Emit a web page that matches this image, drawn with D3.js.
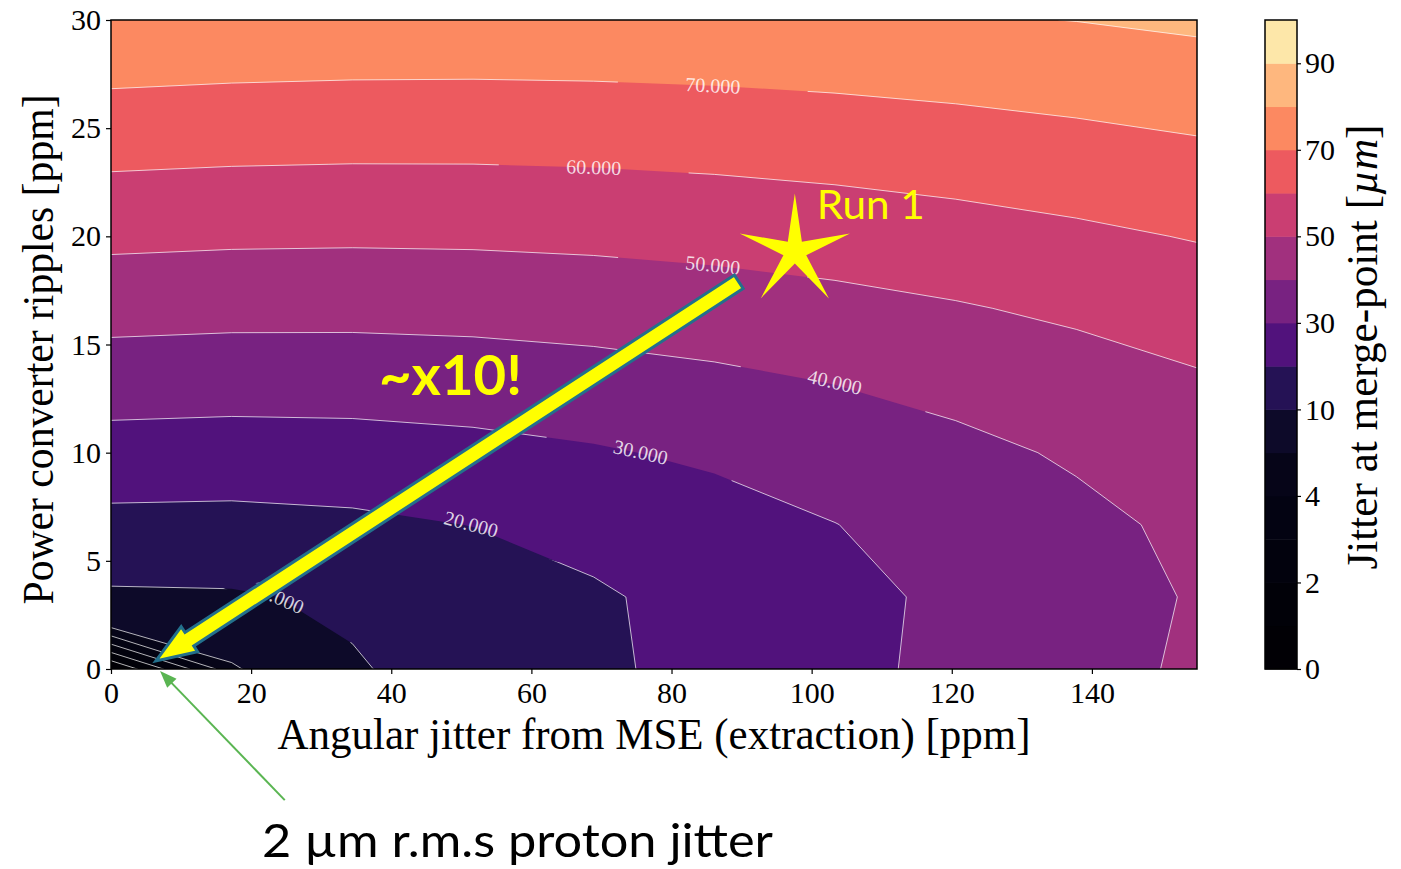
<!DOCTYPE html>
<html>
<head>
<meta charset="utf-8">
<script src="https://cdn.jsdelivr.net/npm/d3@7"></script>
<style>
  body { margin: 0; background: #fff; }
  svg { display: block; }
  .axis text { font-family: "Liberation Serif", serif; font-size: 30px; fill: #000; }
  .axis line { stroke: #000; stroke-width: 1.2; }
  .axis path { display: none; }
</style>
</head>
<body>
<script>
var xGrid = [0, 17.22, 34.44, 51.67, 68.89, 86.11, 103.33, 120.56, 137.78, 155];
var yGrid = [0, 3.33, 6.67, 10, 13.33, 16.67, 20, 23.33, 26.67, 30];
// rows go with yGrid, columns with xGrid (µm)
var jitter = [
  [ 0.00,  4.60,  9.20, 13.80, 18.39, 22.99, 27.59, 32.19, 36.79, 41.39],
  [ 8.70,  9.08, 11.47, 14.93, 18.88, 23.08, 27.40, 31.80, 36.25, 40.73],
  [17.40, 17.18, 18.16, 20.17, 22.94, 26.23, 29.86, 33.73, 37.77, 41.92],
  [26.10, 25.68, 26.07, 27.25, 29.11, 31.54, 34.41, 37.63, 41.11, 44.79],
  [34.80, 34.27, 34.36, 35.06, 36.33, 38.11, 40.35, 42.96, 45.88, 49.06],
  [43.50, 42.91, 42.82, 43.21, 44.09, 45.41, 47.15, 49.25, 51.69, 54.40],
  [52.20, 51.57, 51.35, 51.54, 52.14, 53.13, 54.49, 56.20, 58.22, 60.52],
  [60.90, 60.25, 59.94, 59.98, 60.38, 61.12, 62.19, 63.57, 65.26, 67.21],
  [69.60, 68.92, 68.55, 68.48, 68.73, 69.27, 70.12, 71.25, 72.66, 74.32],
  [78.30, 77.61, 77.18, 77.03, 77.15, 77.55, 78.21, 79.14, 80.15, 81.74]
];
var levels = [0, 1, 2, 3, 4, 5, 10, 20, 30, 40, 50, 60, 70, 80, 90, 100];
var cbarTicks = [0, 2, 4, 10, 30, 50, 70, 90];
var xTicks = [0, 20, 40, 60, 80, 100, 120, 140];
var yTicks = [0, 5, 10, 15, 20, 25, 30];

// inline contour labels: level, position on the line, rotation
var labelLevels = [10, 20, 30, 40, 50, 60, 70];
var labelX = [23.8, 51.4, 75.6, 103.3, 85.9, 68.9, 85.9];
var labelY = [3.33, 6.70, 10.03, 13.27, 18.68, 23.2, 26.98];
var labelAngle = [24, 15, 13, 13, 6, 2, 3];

// slide annotations (data coordinates)
var run1 = [97.6, 19.3];
var bigArrow = [[89.6, 17.9], [6.4, 0.37]];
var greenArrow = [[24.8, -6.06], [7.0, -0.09]];

var W = 1401, H = 869;
var svg = d3.select('body').append('svg').attr('width', W).attr('height', H);
var defs = svg.append('defs');

var x = d3.scaleLinear().domain([0, 155]).range([111, 1197]);
var y = d3.scaleLinear().domain([0, 30]).range([669, 20]);

// d3.contours puts sample i at i + 0.5
var gx = d3.scaleLinear().domain(xGrid.map((d, i) => i + 0.5)).range(xGrid);
var gy = d3.scaleLinear().domain(yGrid.map((d, i) => i + 0.5)).range(yGrid);
var path = d3.geoPath(d3.geoTransform({
  point: function(px, py) { this.stream.point(x(gx(px)), y(gy(py))); }
}));

var contours = d3.contours()
  .size([xGrid.length, yGrid.length])
  .thresholds(levels)(jitter.flat());

var bandColor = i => d3.interpolateMagma((levels[i] + levels[i + 1]) / 2 / 100);

defs.append('clipPath').attr('id', 'plotClip')
  .append('rect')
    .attr('x', x(0)).attr('y', y(30))
    .attr('width', x(155) - x(0)).attr('height', y(0) - y(30));

// gaps cut in the lines where the labels sit
var labels = labelLevels.map((v, i) => ({level: v, x: labelX[i], y: labelY[i], angle: labelAngle[i]}));
var mask = defs.append('mask').attr('id', 'gapMask')
  .attr('maskUnits', 'userSpaceOnUse')
  .attr('x', 0).attr('y', 0).attr('width', W).attr('height', H);
mask.append('rect').attr('width', W).attr('height', H).attr('fill', '#fff');
mask.selectAll('.gap')
  .data(labels)
  .join('rect')
    .attr('class', 'gap')
    .attr('x', d => d.level == 10 ? -85 : -95)
    .attr('y', -14)
    .attr('width', d => d.level == 10 ? 170 : 190)
    .attr('height', 28)
    .attr('fill', '#000')
    .attr('transform', d => `translate(${x(d.x)},${y(d.y)}) rotate(${d.angle})`);

var plot = svg.append('g').attr('clip-path', 'url(#plotClip)');

plot.selectAll('path.band')
  .data(contours.filter((c, i) => i < levels.length - 1))
  .join('path')
    .attr('class', 'band')
    .attr('d', path)
    .attr('fill', (d, i) => bandColor(i));

plot.append('g')
  .attr('mask', 'url(#gapMask)')
  .selectAll('path')
  .data(contours.filter(c => c.value > 0 && c.value < 90))
  .join('path')
    .attr('d', path)
    .attr('fill', 'none')
    .attr('stroke', '#fff')
    .attr('stroke-opacity', 0.7)
    .attr('stroke-width', 1);

plot.selectAll('text.clabel')
  .data(labels)
  .join('text')
    .attr('class', 'clabel')
    .attr('transform', d => `translate(${x(d.x)},${y(d.y)}) rotate(${d.angle})`)
    .attr('text-anchor', 'middle')
    .attr('dy', '0.35em')
    .attr('font-family', '"Liberation Serif", serif')
    .attr('font-size', 20)
    .attr('fill', '#fff')
    .attr('fill-opacity', 0.82)
    .text(d => d3.format('.3f')(d.level));

// frame + axes
svg.append('rect')
  .attr('x', x(0)).attr('y', y(30))
  .attr('width', x(155) - x(0)).attr('height', y(0) - y(30))
  .attr('fill', 'none').attr('stroke', '#000').attr('stroke-width', 1.5);

svg.append('g').attr('class', 'axis')
  .attr('transform', `translate(0,${y(0)})`)
  .call(d3.axisBottom(x).tickValues(xTicks).tickSize(5).tickPadding(8).tickFormat(d3.format('d')));

svg.append('g').attr('class', 'axis')
  .attr('transform', `translate(${x(0)},0)`)
  .call(d3.axisLeft(y).tickValues(yTicks).tickSize(5).tickPadding(5).tickFormat(d3.format('d')));

svg.append('text')
  .attr('x', (x(0) + x(155)) / 2).attr('y', 749)
  .attr('text-anchor', 'middle')
  .attr('font-family', '"Liberation Serif", serif').attr('font-size', 44)
  .attr('textLength', 753).attr('lengthAdjust', 'spacingAndGlyphs')
  .text('Angular jitter from MSE (extraction) [ppm]');

svg.append('text')
  .attr('transform', `translate(53,${(y(0) + y(30)) / 2 + 5}) rotate(-90)`)
  .attr('text-anchor', 'middle')
  .attr('font-family', '"Liberation Serif", serif').attr('font-size', 44)
  .attr('textLength', 510).attr('lengthAdjust', 'spacingAndGlyphs')
  .text('Power converter ripples [ppm]');

// colorbar (uniform spacing per band)
var cb = d3.scaleLinear().domain([0, levels.length - 1]).range([669, 20]);
var cbX = 1265, cbW = 32;
svg.append('g').selectAll('rect')
  .data(d3.range(levels.length - 1))
  .join('rect')
    .attr('x', cbX).attr('width', cbW)
    .attr('y', i => cb(i + 1)).attr('height', i => cb(i) - cb(i + 1) + 0.5)
    .attr('fill', i => bandColor(i));
svg.append('rect')
  .attr('x', cbX).attr('y', cb(levels.length - 1))
  .attr('width', cbW).attr('height', cb(0) - cb(levels.length - 1))
  .attr('fill', 'none').attr('stroke', '#000').attr('stroke-width', 1.5);
svg.append('g').attr('class', 'axis')
  .attr('transform', `translate(${cbX + cbW},0)`)
  .call(d3.axisRight(cb)
    .tickValues(cbarTicks.map(v => levels.indexOf(v)))
    .tickSize(4).tickPadding(4)
    .tickFormat(i => levels[i]));

var cbLabel = svg.append('text')
  .attr('transform', `translate(1377,347) rotate(-90)`)
  .attr('text-anchor', 'middle')
  .attr('font-family', '"Liberation Serif", serif').attr('font-size', 44)
  .attr('textLength', 445).attr('lengthAdjust', 'spacingAndGlyphs');
cbLabel.append('tspan').text('Jitter at merge-point [');
cbLabel.append('tspan').attr('font-style', 'italic').text('µm');
cbLabel.append('tspan').text(']');

// ---- slide overlay ----
// big yellow arrow
var a0 = [x(bigArrow[0][0]), y(bigArrow[0][1])];
var a1 = [x(bigArrow[1][0]), y(bigArrow[1][1])];
var aLen = Math.hypot(a1[0] - a0[0], a1[1] - a0[1]);
var aAng = Math.atan2(a1[1] - a0[1], a1[0] - a0[0]) * 180 / Math.PI;
var sw = 8, hw = 15, hl = 40;
svg.append('polygon')
  .attr('points', [[0, -sw], [aLen - hl, -sw], [aLen - hl, -hw], [aLen, 0],
                   [aLen - hl, hw], [aLen - hl, sw], [0, sw]].join(' '))
  .attr('transform', `translate(${a0}) rotate(${aAng})`)
  .attr('fill', '#ffff00')
  .attr('stroke', '#23708c')
  .attr('stroke-width', 3)
  .attr('stroke-linejoin', 'miter');

// star
var sx = x(run1[0]), sy = y(run1[1]);
var starPts = d3.range(10).map(k => {
  var r = k % 2 ? 12 : 58, t = -Math.PI / 2 + k * Math.PI / 5;
  return [sx + r * Math.cos(t), sy + r * Math.sin(t)];
});
svg.append('polygon').attr('points', starPts.join(' ')).attr('fill', '#ffff00');

svg.append('text')
  .attr('x', sx + 22).attr('y', sy - 32)
  .attr('font-family', 'Lato, sans-serif').attr('font-size', 41)
  .attr('textLength', 108).attr('lengthAdjust', 'spacingAndGlyphs')
  .attr('fill', '#ffff00')
  .text('Run 1');

svg.append('text')
  .attr('x', 379).attr('y', 395)
  .attr('font-family', 'Lato, sans-serif').attr('font-size', 55).attr('font-weight', 'bold')
  .attr('textLength', 143).attr('lengthAdjust', 'spacingAndGlyphs')
  .attr('fill', '#ffff00')
  .text('~x10!');

// green pointer
var g0 = [x(greenArrow[0][0]), y(greenArrow[0][1])];
var g1 = [x(greenArrow[1][0]), y(greenArrow[1][1])];
var gLen = Math.hypot(g1[0] - g0[0], g1[1] - g0[1]);
var gAng = Math.atan2(g1[1] - g0[1], g1[0] - g0[0]) * 180 / Math.PI;
var gArrow = svg.append('g').attr('transform', `translate(${g0}) rotate(${gAng})`);
gArrow.append('line')
  .attr('x1', 0).attr('y1', 0).attr('x2', gLen - 12).attr('y2', 0)
  .attr('stroke', '#5ab552').attr('stroke-width', 2);
gArrow.append('polygon')
  .attr('points', [[gLen, 0], [gLen - 17, -6.5], [gLen - 17, 6.5]].join(' '))
  .attr('fill', '#5ab552');

svg.append('text')
  .attr('x', 262).attr('y', 857)
  .attr('font-family', 'Lato, sans-serif').attr('font-size', 46)
  .attr('textLength', 511).attr('lengthAdjust', 'spacingAndGlyphs')
  .attr('fill', '#000')
  .text('2 µm r.m.s proton jitter');
</script>
</body>
</html>
